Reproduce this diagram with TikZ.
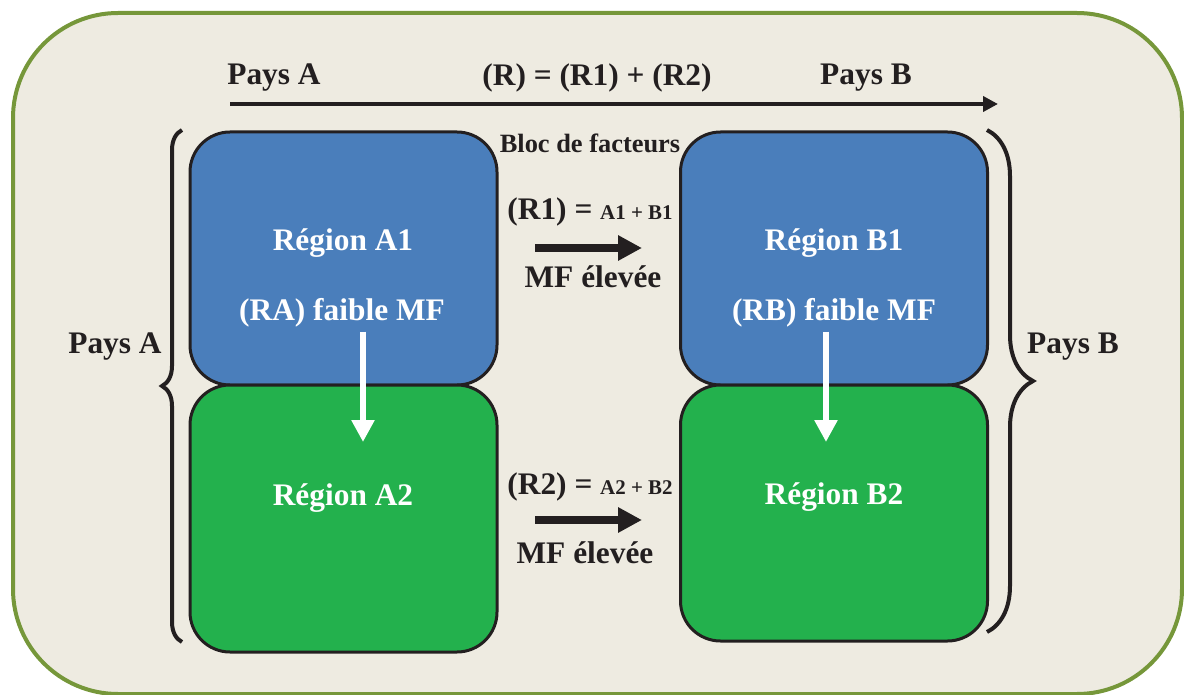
\documentclass[tikz,border=0pt]{standalone}
\usepackage{fontspec}
\setmainfont{Liberation Serif}
\usetikzlibrary{arrows.meta, positioning, decorations.pathreplacing}

\definecolor{framegreen}{HTML}{76973A}
\definecolor{paper}{HTML}{EEEBE1}
\definecolor{regblue}{HTML}{4A7EBB}
\definecolor{reggreen}{HTML}{23B14D}
\definecolor{ink}{HTML}{231F20}

\begin{document}
\begin{tikzpicture}[x=1bp, y=-1bp, >={Triangle[length=15bp, width=15bp]},
  big/.style={font=\fontsize{31.5}{35}\selectfont\bfseries, text=ink, inner sep=0pt},
  wbig/.style={big, text=white},
  region/.style={draw=ink, line width=3bp, rounded corners=40bp, inner sep=0pt,
    minimum width=307bp},
  brace/.style={draw=ink, line width=4bp, decorate,
    decoration={brace, amplitude=#1}}]
  \useasboundingbox (0,0) rectangle (1184,695);
  \draw[framegreen, fill=paper, line width=4bp, rounded corners=105bp] (13,13) rectangle (1182,694);

  % regions
  \node[region, fill=regblue, minimum height=253bp] (a1) at (343.5,258.5) {};
  \node[region, fill=reggreen, minimum height=267bp] (a2) at (343.5,518.5) {};
  \node[region, fill=regblue, minimum height=253bp] (b1) at (834,258.5) {};
  \node[region, fill=reggreen, minimum height=256bp] (b2) at (834,513) {};

  \node[wbig] (ta1) at (343,243) {Région A1};
  \node[wbig] (ra) at (342,313) {(RA) faible MF};
  \node[wbig] (ta2) at (343,498) {Région A2};
  \node[wbig] (tb1) at (834,243) {Région B1};
  \node[wbig] (rb) at (834,313) {(RB) faible MF};
  \node[wbig] (tb2) at (834,497) {Région B2};

  \coordinate (ea) at (363,442);
  \coordinate (eb) at (826,442);
  \draw[->, white, line width=5.5bp, >={Triangle[length=22bp, width=22bp]}] (ra.south -| ea) ++(0,4) -- (ea);
  \draw[->, white, line width=5.5bp, >={Triangle[length=22bp, width=22bp]}] (rb.south -| eb) ++(0,4) -- (eb);

  % top line
  \node[big] (pa) at (274,78) {Pays A};
  \node[big] (rr) at (597,78) {(R) = (R1) + (R2)};
  \node[big] (pb) at (866,78) {Pays B};
  \coordinate (s0) at (230,104);
  \coordinate (e0) at (998,104);
  \draw[->, ink, line width=4bp] (s0) -- (e0);

  % between the regions
  \node[big, font=\fontsize{26.5}{30}\selectfont\bfseries] (bloc) at (590,143) {Bloc de facteurs};
  \node[big] (r1) at (590,212) {(R1) = {\fontsize{21}{24}\selectfont A1 + B1}};
  \node[big] (mf1) at (593,277) {MF élevée};
  \node[big] (r2) at (590,487) {(R2) = {\fontsize{21}{24}\selectfont A2 + B2}};
  \node[big] (mf2) at (585,553) {MF élevée};
  \coordinate (s1) at (535,248);
  \coordinate (e1) at (642,248);
  \coordinate (s2) at (535,520);
  \coordinate (e2) at (642,520);
  \draw[->, ink, line width=8bp, >={Triangle[length=24bp, width=24bp]}] (s1) -- (e1);
  \draw[->, ink, line width=8bp, >={Triangle[length=24bp, width=24bp]}] (s2) -- (e2);

  % braces
  \draw[brace=20bp] (182,642) -- (182,130);
  \draw[brace=46bp] (987,130) -- (987,632);
  \node[big] (pl) at (115,347) {Pays A};
  \node[big] (pr) at (1073,347) {Pays B};
\end{tikzpicture}
\end{document}
